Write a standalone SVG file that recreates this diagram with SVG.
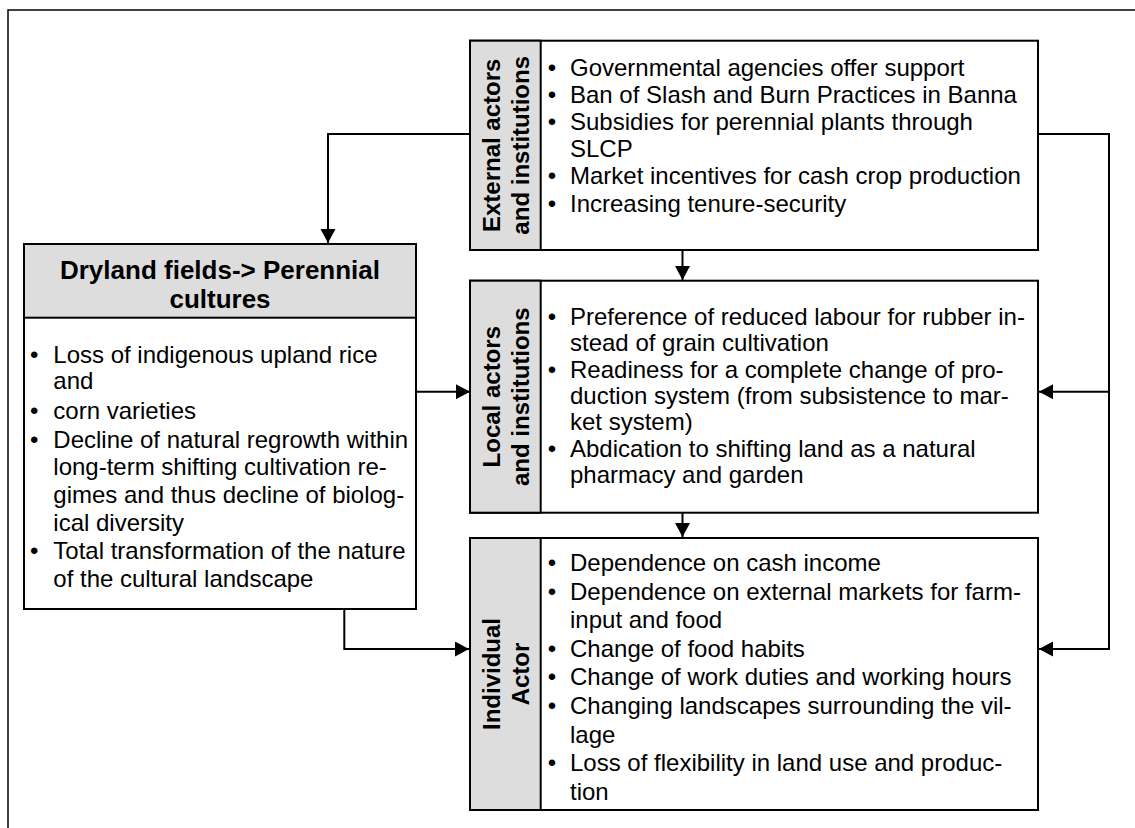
<svg xmlns="http://www.w3.org/2000/svg" width="1135" height="828" viewBox="0 0 1135 828">
<style>
.box{fill:#ffffff;stroke:#000000;stroke-width:2}
.gray{fill:#dddddd;stroke:#000000;stroke-width:2}
.t{font-family:"Liberation Sans",Arial,sans-serif;font-size:24px;fill:#000000}
.b{font-family:"Liberation Sans",Arial,sans-serif;font-weight:bold;fill:#000000}
.lab{font-size:24px;text-anchor:middle}
.hd{font-size:26px;text-anchor:middle}
.bul{text-anchor:middle}
.conn{fill:none;stroke:#000000;stroke-width:2}
</style>
<defs>
<marker id="ah" markerUnits="userSpaceOnUse" markerWidth="15" markerHeight="16" refX="14" refY="7.5" orient="auto">
<path d="M0,0 L14,7.5 L0,15 Z" fill="#000000"/>
</marker>
</defs>
<rect x="0" y="0" width="1135" height="828" fill="#ffffff"/>
<path d="M8,830 V10 H1137" fill="none" stroke="#000000" stroke-width="1.5"/>

<g id="connectors">
<path class="conn" d="M470,134 H328 V243" marker-end="url(#ah)"/>
<path class="conn" d="M682.5,250 V280" marker-end="url(#ah)"/>
<path class="conn" d="M416,391.7 H470" marker-end="url(#ah)"/>
<path class="conn" d="M1038,134 H1109 V649 H1039" marker-end="url(#ah)"/>
<path class="conn" d="M1109,391.7 H1039" marker-end="url(#ah)"/>
<path class="conn" d="M682.5,512.7 V537" marker-end="url(#ah)"/>
<path class="conn" d="M344.3,609 V649 H469" marker-end="url(#ah)"/>
</g>

<g id="dryland">
<rect class="box" x="24" y="244" width="392" height="365"/>
<rect class="gray" x="24" y="244" width="392" height="73.7"/>
<text class="b hd" x="220" y="279.3">Dryland fields-&gt; Perennial</text>
<text class="b hd" x="220" y="308.3">cultures</text>
<g class="t">
<text class="bul" x="34.3" y="362.7">•</text>
<text x="53.3" y="362.7">Loss of indigenous upland rice</text>
<text x="53.3" y="389.3">and</text>
<text class="bul" x="34.3" y="419.3">•</text>
<text x="53.3" y="419.3">corn varieties</text>
<text class="bul" x="34.3" y="447.7">•</text>
<text x="53.3" y="447.7">Decline of natural regrowth within</text>
<text x="53.3" y="474.7">long-term shifting cultivation re-</text>
<text x="53.3" y="502.7">gimes and thus decline of biolog-</text>
<text x="53.3" y="531">ical diversity</text>
<text class="bul" x="34.3" y="559.3">•</text>
<text x="53.3" y="559.3">Total transformation of the nature</text>
<text x="53.3" y="586.5">of the cultural landscape</text>
</g>
</g>

<g id="external">
<rect class="box" x="470" y="40.7" width="568" height="209.3"/>
<rect class="gray" x="470" y="40.7" width="70.7" height="209.3"/>
<text class="b lab" transform="rotate(-90 500 145.3)" x="500" y="145.3">External actors</text>
<text class="b lab" transform="rotate(-90 529 145.3)" x="529" y="145.3">and institutions</text>
<g class="t">
<text class="bul" x="552" y="76">•</text>
<text x="570" y="76">Governmental agencies offer support</text>
<text class="bul" x="552" y="103.3">•</text>
<text x="570" y="103.3">Ban of Slash and Burn Practices in Banna</text>
<text class="bul" x="552" y="130.3">•</text>
<text x="570" y="130.3">Subsidies for perennial plants through</text>
<text x="570" y="157">SLCP</text>
<text class="bul" x="552" y="184.3">•</text>
<text x="570" y="184.3">Market incentives for cash crop production</text>
<text class="bul" x="552" y="211.5">•</text>
<text x="570" y="211.5">Increasing tenure-security</text>
</g>
</g>

<g id="local">
<rect class="box" x="470" y="280.7" width="568" height="232"/>
<rect class="gray" x="470" y="280.7" width="70.7" height="232"/>
<text class="b lab" transform="rotate(-90 500 396.7)" x="500" y="396.7">Local actors</text>
<text class="b lab" transform="rotate(-90 529 396.7)" x="529" y="396.7">and institutions</text>
<g class="t">
<text class="bul" x="552" y="325">•</text>
<text x="570" y="325">Preference of reduced labour for rubber in-</text>
<text x="570" y="351.3">stead of grain cultivation</text>
<text class="bul" x="552" y="377.6">•</text>
<text x="570" y="377.6">Readiness for a complete change of pro-</text>
<text x="570" y="403.9">duction system (from subsistence to mar-</text>
<text x="570" y="430.2">ket system)</text>
<text class="bul" x="552" y="456.5">•</text>
<text x="570" y="456.5">Abdication to shifting land as a natural</text>
<text x="570" y="482.8">pharmacy and garden</text>
</g>
</g>

<g id="individual">
<rect class="box" x="470" y="538" width="568" height="272"/>
<rect class="gray" x="470" y="538" width="70.7" height="272"/>
<text class="b lab" transform="rotate(-90 500 674)" x="500" y="674">Individual</text>
<text class="b lab" transform="rotate(-90 529 674)" x="529" y="674">Actor</text>
<g class="t">
<text class="bul" x="552" y="571">•</text>
<text x="570" y="571">Dependence on cash income</text>
<text class="bul" x="552" y="599.6">•</text>
<text x="570" y="599.6">Dependence on external markets for farm-</text>
<text x="570" y="628.2">input and food</text>
<text class="bul" x="552" y="656.8">•</text>
<text x="570" y="656.8">Change of food habits</text>
<text class="bul" x="552" y="685.4">•</text>
<text x="570" y="685.4">Change of work duties and working hours</text>
<text class="bul" x="552" y="714">•</text>
<text x="570" y="714">Changing landscapes surrounding the vil-</text>
<text x="570" y="742.6">lage</text>
<text class="bul" x="552" y="771.2">•</text>
<text x="570" y="771.2">Loss of flexibility in land use and produc-</text>
<text x="570" y="799.8">tion</text>
</g>
</g>
</svg>
